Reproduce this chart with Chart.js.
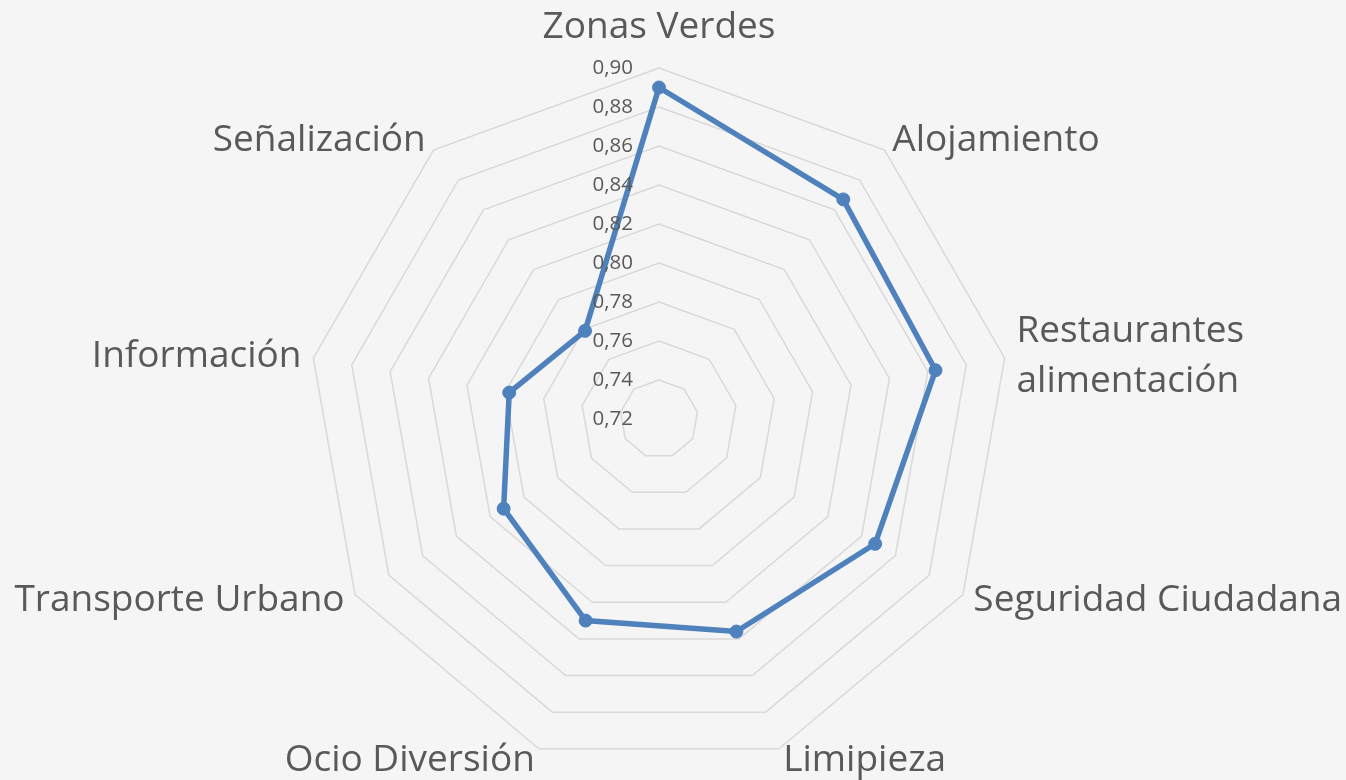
<!DOCTYPE html>
<html>
<head>
<meta charset="utf-8">
<script src="https://cdn.jsdelivr.net/npm/chart.js@4.4.1/dist/chart.umd.min.js"></script>
<style>
    html, body { margin: 0; padding: 0; background: #f5f5f5; }
    #wrap { width: 1346px; height: 780px; position: relative; }
</style>
</head>
<body>
<div id="wrap"><canvas id="radar"></canvas></div>
<script>
// Categories (label lines) and the single series
const categories = [
    ['Zonas Verdes'],
    ['Alojamiento'],
    ['Restaurantes', 'alimentación'],
    ['Seguridad Ciudadana'],
    ['Limipieza'],
    ['Ocio Diversión'],
    ['Transporte Urbano'],
    ['Información'],
    ['Señalización']
];
const values = [0.89, 0.867, 0.864, 0.848, 0.836, 0.830, 0.812, 0.798, 0.779];

// Radial axis
const tickValues = [0.72, 0.74, 0.76, 0.78, 0.80, 0.82, 0.84, 0.86, 0.88, 0.90];
const tickLabels = ['0,72', '0,74', '0,76', '0,78', '0,80', '0,82', '0,84', '0,86', '0,88', '0,90'];

const TEXT_COLOR = '#595959';
const LINE_COLOR = '#4f81bd';

// Draws the value labels left of the vertical axis and the category labels outside the rim
const labelPlugin = {
    id: 'excelLabels',
    afterDraw(chart) {
        const scale = chart.scales.r;
        const ctx = chart.ctx;
        ctx.save();
        ctx.fillStyle = TEXT_COLOR;

        // tick labels
        ctx.font = '20.5px "Open Sans"';
        ctx.textAlign = 'right';
        ctx.textBaseline = 'middle';
        tickValues.forEach((v, i) => {
            const d = scale.getDistanceFromCenterForValue(v);
            ctx.fillText(tickLabels[i], scale.xCenter - 26, scale.yCenter - d);
        });

        // category labels
        const lineH = 50;
        ctx.font = '37px "Open Sans"';
        categories.forEach((lines, i) => {
            const p = scale.getPointPosition(i, scale.drawingArea + 12);
            const angle = scale.getIndexAngle(i) - Math.PI / 2;
            const c = Math.cos(angle);
            let y = p.y;
            if (Math.abs(c) < 0.05) {
                ctx.textAlign = 'center';
                y = Math.sin(angle) < 0 ? p.y - 29 : p.y + 29;
            } else {
                ctx.textAlign = c > 0 ? 'left' : 'right';
            }
            const top = y - (lines.length - 1) * lineH / 2;
            lines.forEach((t, k) => ctx.fillText(t, p.x, top + k * lineH));
        });
        ctx.restore();
    }
};

new Chart(document.getElementById('radar'), {
    type: 'radar',
    data: {
        labels: categories,
        datasets: [{
            label: 'Serie',
            data: values,
            borderColor: LINE_COLOR,
            backgroundColor: LINE_COLOR,
            borderWidth: 5.5,
            fill: false,
            pointRadius: 6.5,
            pointBorderWidth: 1,
            pointBackgroundColor: LINE_COLOR,
            pointBorderColor: LINE_COLOR
        }]
    },
    options: {
        responsive: true,
        maintainAspectRatio: false,
        animation: false,
        layout: { padding: { left: 308, right: 336, top: 68, bottom: 10 } },
        plugins: {
            legend: { display: false },
            tooltip: { enabled: false }
        },
        scales: {
            r: {
                min: 0.72,
                max: 0.90,
                ticks: { display: false, stepSize: 0.02 },
                pointLabels: { display: false },
                angleLines: { display: false },
                grid: { color: '#d9d9d9', lineWidth: 1.5 }
            }
        }
    },
    plugins: [labelPlugin]
});
</script>
</body>
</html>
